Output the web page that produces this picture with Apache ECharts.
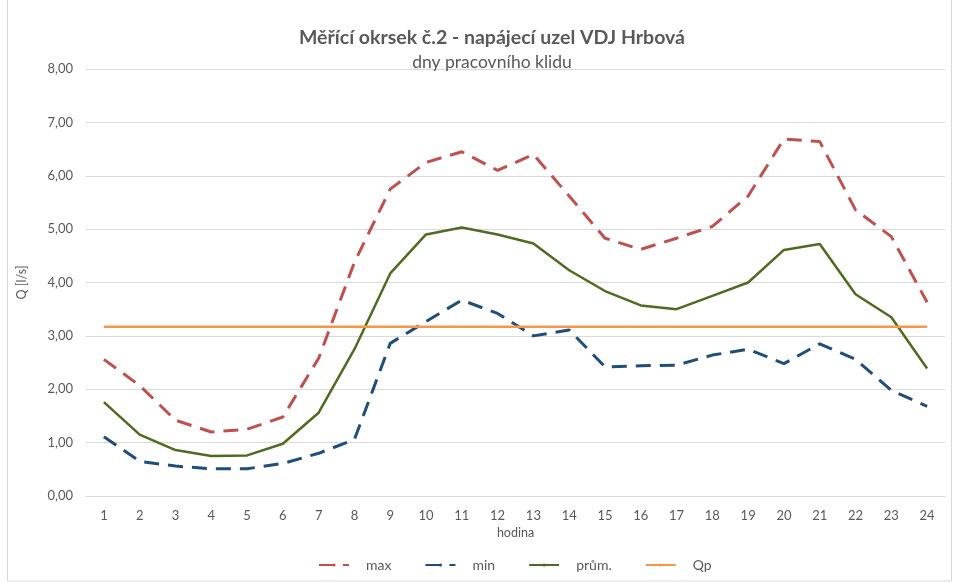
<!DOCTYPE html>
<html>
<head>
<meta charset="utf-8">
<script src="https://cdn.jsdelivr.net/npm/echarts@6/dist/echarts.min.js"></script>
<style>
    html, body { margin: 0; padding: 0; background: #fff; }
    #mains { width: 960px; height: 582px; }
</style>
</head>
<body>
<div id="mains"></div>
<script>
    var hours = ['1', '2', '3', '4', '5', '6', '7', '8', '9', '10', '11', '12',
        '13', '14', '15', '16', '17', '18', '19', '20', '21', '22', '23', '24'];
    var maxData = [2.56, 2.07, 1.42, 1.2, 1.25, 1.48, 2.58, 4.38, 5.75, 6.25, 6.45, 6.1,
        6.4, 5.62, 4.83, 4.62, 4.83, 5.05, 5.62, 6.69, 6.64, 5.36, 4.86, 3.63];
    var minData = [1.11, 0.65, 0.56, 0.51, 0.51, 0.61, 0.8, 1.06, 2.86, 3.27, 3.67, 3.42,
        3.0, 3.11, 2.42, 2.44, 2.45, 2.64, 2.75, 2.48, 2.85, 2.56, 1.98, 1.68];
    var avgData = [1.76, 1.15, 0.86, 0.75, 0.76, 0.98, 1.56, 2.75, 4.17, 4.9, 5.03, 4.9,
        4.73, 4.23, 3.84, 3.57, 3.5, 3.75, 4.0, 4.61, 4.72, 3.78, 3.35, 2.39];
    var qpData = [3.17, 3.17, 3.17, 3.17, 3.17, 3.17, 3.17, 3.17, 3.17, 3.17, 3.17, 3.17,
        3.17, 3.17, 3.17, 3.17, 3.17, 3.17, 3.17, 3.17, 3.17, 3.17, 3.17, 3.17];
    var names = ['max', 'min', 'prům.', 'Qp'];
    var colors = ['#C0504D', '#1F4E79', '#4F6B22', '#F79646'];

    var font = 'Lato, "Open Sans", sans-serif';

    // prázdné řady jen kvůli plným čarám v legendě (jako v Excelu)
    var legendSeries = names.map(function (n, i) {
        return {
            name: n,
            type: 'line',
            data: [],
            symbol: 'none',
            color: colors[i],
            lineStyle: { width: 4, type: 'solid' }
        };
    });

    var myChart = echarts.init(document.getElementById('mains'));
    myChart.setOption({
        animation: false,
        textStyle: { fontFamily: font, color: '#595959' },
        title: {
            left: 487,
            textAlign: 'center',
            top: 23,
            text: 'Měřící okrsek č.2 - napájecí uzel VDJ Hrbová',
            subtext: 'dny pracovního klidu',
            itemGap: 5,
            textStyle: { fontFamily: font, fontSize: 19.5, fontWeight: 'bold', color: '#595959' },
            subtextStyle: { fontFamily: font, fontSize: 17.5, color: '#595959' }
        },
        graphic: [{
            type: 'rect',
            shape: { x: 7.5, y: -1, width: 944, height: 582 },
            style: { fill: 'none', stroke: '#d9d9d9', lineWidth: 1 }
        }],
        legend: {
            bottom: 5,
            left: 313,
            itemWidth: 30,
            itemHeight: 4,
            itemGap: 33,
            textStyle: { fontFamily: font, fontSize: 14, color: '#595959', padding: [0, 0, 0, 12] },
            data: names
        },
        grid: {
            left: 86,
            right: 15,
            top: 69,
            bottom: 86
        },
        xAxis: {
            type: 'category',
            data: hours,
            name: 'hodina',
            nameLocation: 'middle',
            nameGap: 25,
            nameTextStyle: { fontFamily: font, fontSize: 12.5, color: '#595959' },
            axisLine: { lineStyle: { color: '#d9d9d9' } },
            axisTick: { show: false },
            axisLabel: { fontFamily: font, fontSize: 13, color: '#595959', margin: 13 }
        },
        yAxis: {
            type: 'value',
            min: 0,
            max: 8,
            interval: 1,
            name: 'Q [l/s]',
            nameLocation: 'middle',
            nameGap: 58,
            nameTextStyle: { fontFamily: font, fontSize: 12.5, color: '#595959' },
            axisLine: { show: false },
            axisTick: { show: false },
            splitLine: { lineStyle: { color: '#d9d9d9' } },
            axisLabel: {
                fontFamily: font, fontSize: 13, color: '#595959', margin: 13,
                formatter: function (v) { return v.toFixed(2).replace('.', ','); }
            }
        },
        series: [
            {
                name: names[0],
                type: 'line',
                data: maxData,
                symbol: 'none',
                color: colors[0],
                lineStyle: { width: 3, type: [15, 9] }
            },
            {
                name: names[1],
                type: 'line',
                data: minData,
                symbol: 'none',
                color: colors[1],
                lineStyle: { width: 3, type: [15, 9] }
            },
            {
                name: names[2],
                type: 'line',
                data: avgData,
                symbol: 'none',
                color: colors[2],
                lineStyle: { width: 2.5 }
            },
            {
                name: names[3],
                type: 'line',
                data: qpData,
                symbol: 'none',
                color: colors[3],
                lineStyle: { width: 2.5 }
            }
        ].concat(legendSeries)
    });
</script>
</body>
</html>
